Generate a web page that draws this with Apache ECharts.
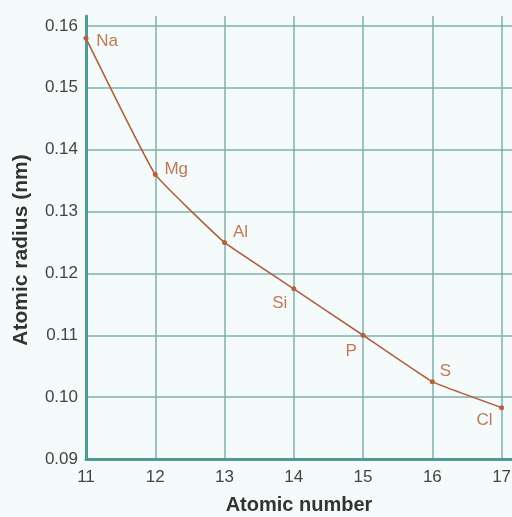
<!DOCTYPE html>
<html>
<head>
<meta charset="utf-8">
<script src="https://cdn.jsdelivr.net/npm/echarts@6/dist/echarts.min.js"></script>
<style>
  html, body { margin: 0; padding: 0; background: #f5fbfb; }
  #chart { width: 512px; height: 517px; }
</style>
</head>
<body>
<div id="chart"></div>
<script>
// Period 3 elements: atomic number vs atomic radius
const atomicNumbers = [11, 12, 13, 14, 15, 16, 17];
const atomicRadii = [0.158, 0.136, 0.125, 0.1175, 0.110, 0.1025, 0.0983];
const elementSymbols = ['Na', 'Mg', 'Al', 'Si', 'P', 'S', 'Cl'];
// where each symbol sits relative to its point
const labelOffsets = [[21, 3], [21, -5], [16, -10], [-14, 14], [-12, 16], [13, -10], [-17, 13]];

const FONT = '"Liberation Sans", Arial, Helvetica, sans-serif';

const chart = echarts.init(document.getElementById('chart'));

const seriesData = atomicNumbers.map((n, i) => ({
  value: [n, atomicRadii[i]],
  label: {
    show: true,
    formatter: elementSymbols[i],
    position: 'inside',
    offset: labelOffsets[i]
  }
}));

chart.setOption({
  backgroundColor: '#f5fbfb',
  animation: false,
  grid: { left: 86, right: 0, top: 16, bottom: 58, containLabel: false, outerBoundsMode: 'none' },
  xAxis: {
    type: 'value',
    min: 11,
    max: 17.15,
    interval: 1,
    name: 'Atomic number',
    nameLocation: 'middle',
    nameGap: 36,
    nameTextStyle: { fontFamily: FONT, fontSize: 20, fontWeight: 'bold', color: '#333' },
    axisLine: { show: true, onZero: false, lineStyle: { color: '#4e9b92', width: 3 } },
    axisTick: { show: false },
    axisLabel: {
      fontFamily: FONT, fontSize: 17, color: '#444', margin: 10,
      showMaxLabel: false,
      formatter: v => Number.isInteger(v) ? String(v) : ''
    },
    splitLine: { show: true, showMinLine: false, showMaxLine: false, lineStyle: { color: '#7fb0ae', width: 1.5 } }
  },
  yAxis: {
    type: 'value',
    min: 0.09,
    max: 0.1616,
    interval: 0.01,
    name: 'Atomic radius (nm)',
    nameLocation: 'middle',
    nameGap: 54,
    nameTextStyle: { fontFamily: FONT, fontSize: 21, fontWeight: 'bold', color: '#333', padding: [0, 0, 0, -25] },
    axisLine: { show: true, onZero: false, lineStyle: { color: '#4e9b92', width: 3 } },
    axisTick: { show: false },
    axisLabel: {
      fontFamily: FONT, fontSize: 17, color: '#444', margin: 8,
      showMaxLabel: false,
      formatter: v => {
        const r = Math.round(v * 100);
        return Math.abs(v * 100 - r) < 1e-6 ? v.toFixed(2) : '';
      }
    },
    splitLine: { show: true, showMinLine: false, showMaxLine: false, lineStyle: { color: '#7fb0ae', width: 1.5 } }
  },
  series: [{
    type: 'line',
    data: seriesData,
    smooth: 0.1,
    symbol: 'circle',
    symbolSize: 5,
    lineStyle: { color: '#b06040', width: 1.6 },
    itemStyle: { color: '#b8603c' },
    label: { fontFamily: FONT, fontSize: 17, color: '#c07a5a' }
  }]
});
</script>
</body>
</html>
